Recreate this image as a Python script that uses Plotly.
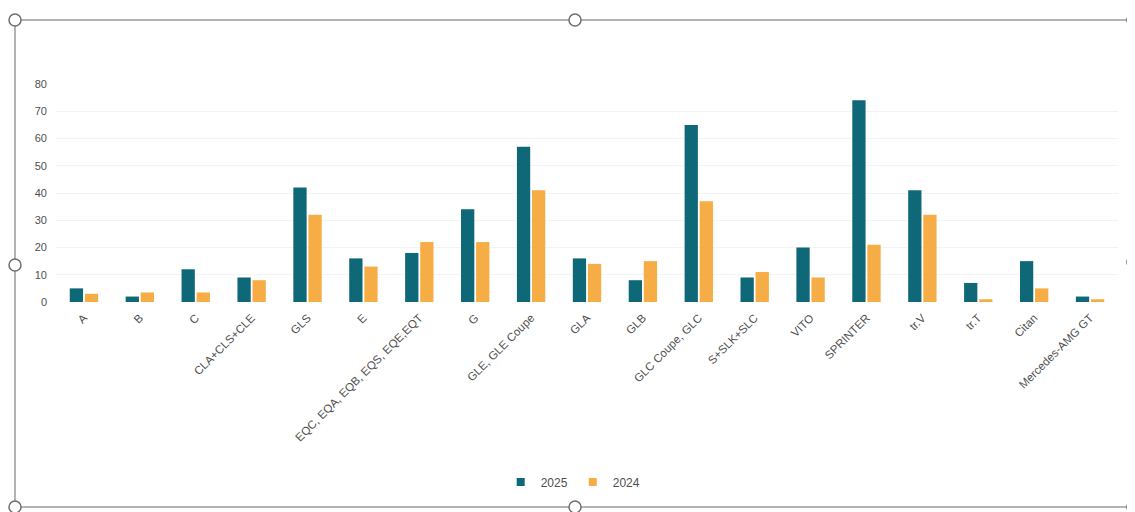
import plotly.graph_objects as go

categories = ["A", "B", "C", "CLA+CLS+CLE", "GLS", "E", "EQC, EQA, EQB, EQS, EQE,EQT",
              "G", "GLE, GLE Coupe", "GLA", "GLB", "GLC Coupe, GLC", "S+SLK+SLC", "VITO",
              "SPRINTER", "tr.V", "tr.T", "Citan", "Mercedes-AMG GT"]
values_2025 = [5, 2, 12, 9, 42, 16, 18, 34, 57, 16, 8, 65, 9, 20, 74, 41, 7, 15, 2]
values_2024 = [3, 3.5, 3.5, 8, 32, 13, 22, 22, 41, 14, 15, 37, 11, 9, 21, 32, 1, 5, 1]
y_ticks = [0, 10, 20, 30, 40, 50, 60, 70, 80]

teal = "#0e6877"
orange = "#f6ad45"
font_family = "Liberation Sans, Arial, sans-serif"

W, H = 1127, 504
ML, MR, MT, MB = 48, 17, 76, 210
PW, PH = W - ML - MR, H - MT - MB

fig = go.Figure()
fig.add_trace(go.Bar(name="2025", x=categories, y=values_2025, marker_color=teal,
                     marker_line_width=0, showlegend=False))
fig.add_trace(go.Bar(name="2024", x=categories, y=values_2024, marker_color=orange,
                     marker_line_width=0, showlegend=False))
# compact legend entries (small squares)
fig.add_trace(go.Scatter(name="2025", x=[None], y=[None], mode="markers",
                         marker=dict(symbol="square", size=8, color=teal)))
fig.add_trace(go.Scatter(name="2024", x=[None], y=[None], mode="markers",
                         marker=dict(symbol="square", size=8, color=orange)))

fig.update_layout(
    width=W, height=H,
    paper_bgcolor="white", plot_bgcolor="white",
    barmode="group", bargap=0.46, bargroupgap=0.12,
    margin=dict(l=ML, r=MR, t=MT, b=MB, autoexpand=False),
    font=dict(family=font_family, size=11, color="#505050"),
    legend=dict(orientation="h", x=0.487, xanchor="center", y=(MT + PH - 474) / PH,
                yanchor="middle", font=dict(size=12, color="#505050"),
                itemwidth=30, traceorder="normal", tracegroupgap=0),
    xaxis=dict(tickangle=-45, showgrid=False, showline=False, ticks="",
               ticklabelstandoff=6, tickfont=dict(size=11.5, color="#505050")),
    yaxis=dict(range=[0, 80], tickvals=y_ticks, showgrid=True, gridcolor="#f3f3f3",
               zeroline=False, showline=False, ticks="", ticklabelstandoff=8,
               tickfont=dict(size=11, color="#505050")),
)

def px(fx):
    return (fx - ML) / PW

def py(fy):
    return (MT + PH - fy) / PH

# selection frame with handles (page coordinates minus 8px body margin)
fig.add_shape(type="rect", xref="paper", yref="paper", layer="below",
              x0=px(7), x1=px(1125), y0=py(499), y1=py(12),
              line=dict(color="#9a9a9a", width=1.5))
handles = [(7, 12), (567, 12), (1125, 12), (7, 257), (1125, 254), (7, 499), (567, 499), (1125, 499)]
for hx, hy in handles:
    fig.add_shape(type="circle", xref="paper", yref="paper",
                  x0=px(hx - 6), x1=px(hx + 6), y0=py(hy + 6), y1=py(hy - 6),
                  line=dict(color="#6f6f6f", width=1.5), fillcolor="white")

fig.write_html("out.html")
